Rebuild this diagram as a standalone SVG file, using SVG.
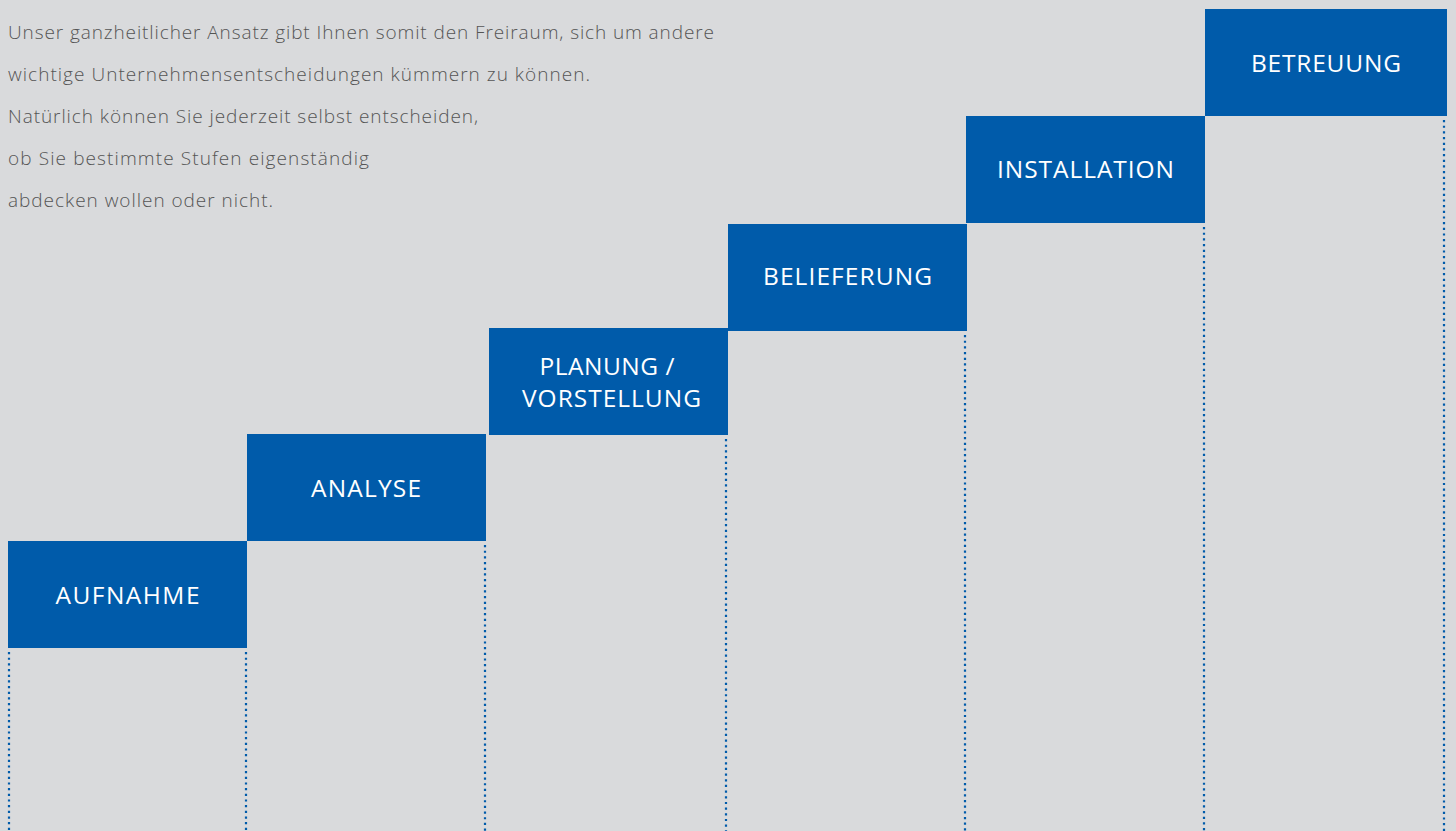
<svg xmlns="http://www.w3.org/2000/svg" width="1456" height="831" viewBox="0 0 1456 831">
<style>
.bg{fill:#d9dadc}
.box{fill:#005baa}
.lbl{font-family:"Open Sans","Liberation Sans",sans-serif;font-size:24.5px;fill:#ffffff;text-anchor:middle}
.intro{font-family:"Open Sans","Liberation Sans",sans-serif;font-weight:300;font-size:19px;fill:#555555}
.dot{stroke:#005baa;stroke-width:2.2;stroke-dasharray:2.2 3.47;fill:none}
</style>
<rect class="bg" x="0" y="0" width="1456" height="831"/>
<g id="intro">
<text class="intro" x="8" y="39" textLength="706" lengthAdjust="spacing">Unser ganzheitlicher Ansatz gibt Ihnen somit den Freiraum, sich um andere</text>
<text class="intro" x="8" y="81" textLength="582" lengthAdjust="spacing">wichtige Unternehmensentscheidungen kümmern zu können.</text>
<text class="intro" x="8" y="123" textLength="470" lengthAdjust="spacing">Natürlich können Sie jederzeit selbst entscheiden,</text>
<text class="intro" x="8" y="165" textLength="361" lengthAdjust="spacing">ob Sie bestimmte Stufen eigenständig</text>
<text class="intro" x="8" y="207" textLength="265" lengthAdjust="spacing">abdecken wollen oder nicht.</text>
</g>
<g id="connectors">
<line class="dot" x1="9" y1="652" x2="9" y2="831"/>
<line class="dot" x1="246" y1="652" x2="246" y2="831"/>
<line class="dot" x1="485" y1="545" x2="485" y2="831"/>
<line class="dot" x1="726" y1="439" x2="726" y2="831"/>
<line class="dot" x1="965" y1="335" x2="965" y2="831"/>
<line class="dot" x1="1204" y1="227" x2="1204" y2="831"/>
<line class="dot" x1="1444" y1="120" x2="1444" y2="831"/>
</g>
<g id="aufnahme">
<rect class="box" x="8" y="541" width="239" height="107"/>
<text class="lbl" x="127.5" y="604" textLength="144" lengthAdjust="spacing">AUFNAHME</text>
</g>
<g id="analyse">
<rect class="box" x="247" y="434" width="239" height="107"/>
<text class="lbl" x="366" y="497" textLength="110" lengthAdjust="spacing">ANALYSE</text>
</g>
<g id="planung">
<rect class="box" x="489" y="328" width="239" height="107"/>
<text class="lbl" x="607" y="375" textLength="135" lengthAdjust="spacing">PLANUNG /</text>
<text class="lbl" x="611.5" y="407" textLength="179" lengthAdjust="spacing">VORSTELLUNG</text>
</g>
<g id="belieferung">
<rect class="box" x="728" y="224" width="239" height="107"/>
<text class="lbl" x="847.5" y="285" textLength="169" lengthAdjust="spacing">BELIEFERUNG</text>
</g>
<g id="installation">
<rect class="box" x="966" y="116" width="239" height="107"/>
<text class="lbl" x="1085.5" y="178" textLength="177" lengthAdjust="spacing">INSTALLATION</text>
</g>
<g id="betreuung">
<rect class="box" x="1205" y="9" width="242" height="107"/>
<text class="lbl" x="1326" y="72" textLength="150" lengthAdjust="spacing">BETREUUNG</text>
</g>
</svg>
